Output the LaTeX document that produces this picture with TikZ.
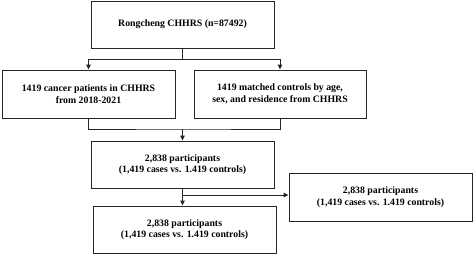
\documentclass[tikz,border=0pt]{standalone}
\usepackage{fontspec}
\setmainfont{Liberation Serif}
\usetikzlibrary{arrows.meta}
\begin{document}
\begin{tikzpicture}[x=1pt,y=-1pt,
  box/.style={draw=black!85,line width=0.9pt,rectangle,align=center,inner sep=0pt,
    font=\fontsize{9.8}{11.5}\selectfont\bfseries},
  conn/.style={draw=black!85,line width=0.9pt},
  arr/.style={conn,-{Triangle[length=5pt,width=4.5pt]}}]
\useasboundingbox (0,0) rectangle (474,255);
\node[box,minimum width=183pt,minimum height=47pt] (top) at (182.5,24.5) {Rongcheng CHHRS (n=87492)};
\node[box,minimum width=173pt,minimum height=48pt] (left) at (88.5,94) {1419 cancer patients in CHHRS\\from 2018-2021};
\node[box,minimum width=172pt,minimum height=48pt] (right) at (280,94) {1419 matched controls by age,\\sex, and residence from CHHRS};
\node[box,minimum width=183pt,minimum height=47pt] (mid) at (182.5,164.5) {2,838 participants\\(1,419 cases vs. 1.419 controls)};
\node[box,minimum width=183pt,minimum height=48pt] (br) at (380.5,197) {2,838 participants\\(1,419 cases vs. 1.419 controls)};
\node[box,minimum width=183pt,minimum height=47pt] (bot) at (184.5,229.5) {2,838 participants\\(1,419 cases vs. 1.419 controls)};
\coordinate (j1) at (182.5,59);
\coordinate (j2) at (182.5,129);
\coordinate (j3) at (182.5,195);
\draw[conn] (top.south) -- (j1);
\draw[arr] (j1) -| (left.north);
\draw[arr] (j1) -| (right.north);
\draw[conn] (left.south) |- (j2) -| (right.south);
\draw[arr] (j2) -- (mid.north);
\draw[arr] (mid.south) -- (mid.south |- bot.north);
\draw[arr] (j3) -- (j3 -| br.west);
\end{tikzpicture}
\end{document}
